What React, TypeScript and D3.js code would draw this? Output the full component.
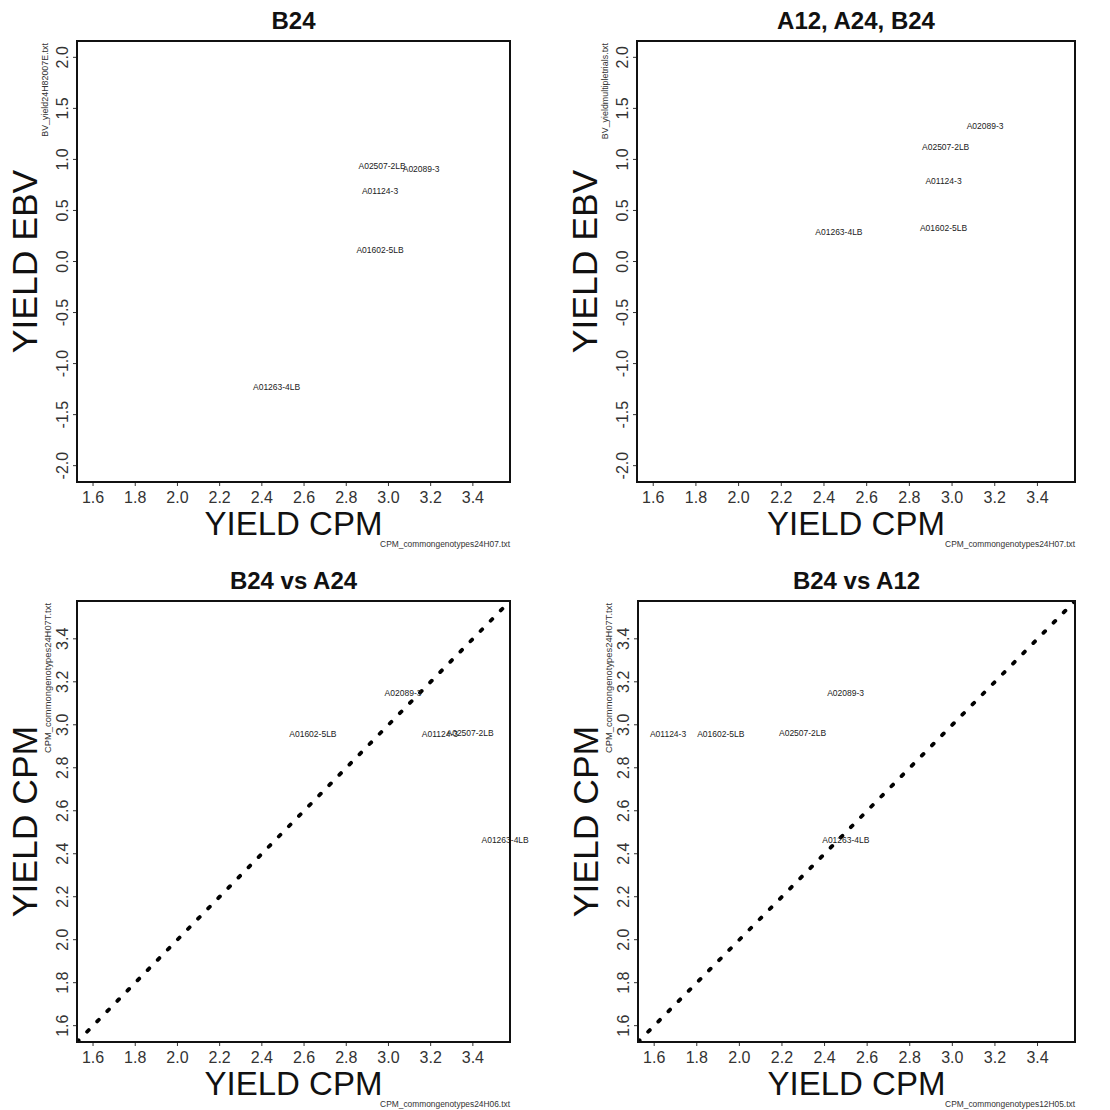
import React from "react";
import * as d3 from "d3";

// ---- data ----
const genotypes = ["A02507-2LB", "A02089-3", "A01124-3", "A01602-5LB", "A01263-4LB"];
const cpm24H07 = [2.97, 3.155, 2.96, 2.96, 2.47];
const ebvB24 = [0.934, 0.905, 0.689, 0.112, -1.228];
const ebvMulti = [1.12, 1.325, 0.787, 0.327, 0.288];
const cpm24H07T = [2.96, 3.149, 2.958, 2.958, 2.465];
const cpm24H06 = [3.387, 3.069, 3.244, 2.642, 3.553];
const cpm12H05 = [2.297, 2.499, 1.665, 1.913, 2.5];

const cpmTicks = [1.6, 1.8, 2.0, 2.2, 2.4, 2.6, 2.8, 3.0, 3.2, 3.4];
const ebvTicks = [-2.0, -1.5, -1.0, -0.5, 0.0, 0.5, 1.0, 1.5, 2.0];
const cpmLim: [number, number] = [1.6, 3.5];
const ebvLim: [number, number] = [-2, 2];

const titles = ["B24", "A12, A24, B24", "B24 vs A24", "B24 vs A12"];
const yFiles = [
  "BV_yield24H82007E.txt",
  "BV_yieldmultipletrials.txt",
  "CPM_commongenotypes24H07T.txt",
  "CPM_commongenotypes24H07T.txt",
];
const xFiles = [
  "CPM_commongenotypes24H07.txt",
  "CPM_commongenotypes24H07.txt",
  "CPM_commongenotypes24H06.txt",
  "CPM_commongenotypes12H05.txt",
];

const FONT = "'Liberation Sans', Arial, Helvetica, sans-serif";

function ext(lim: [number, number]): [number, number] {
  const r = lim[1] - lim[0];
  return [lim[0] - 0.04 * r, lim[1] + 0.04 * r];
}

const panels = [
  { title: titles[0], box: [77, 510, 41, 482], xs: cpm24H07, ys: ebvB24, xLim: cpmLim, yLim: ebvLim, yTicks: ebvTicks, yLabel: "YIELD EBV", yFile: yFiles[0], xFile: xFiles[0], diag: false, yFileSize: 8.9, yFileOff: 29 },
  { title: titles[1], box: [637, 1075, 41, 482], xs: cpm24H07, ys: ebvMulti, xLim: cpmLim, yLim: ebvLim, yTicks: ebvTicks, yLabel: "YIELD EBV", yFile: yFiles[1], xFile: xFiles[1], diag: false, yFileSize: 8.9, yFileOff: 29 },
  { title: titles[2], box: [77, 510, 601, 1042], xs: cpm24H06, ys: cpm24H07T, xLim: cpmLim, yLim: cpmLim, yTicks: cpmTicks, yLabel: "YIELD CPM", yFile: yFiles[2], xFile: xFiles[2], diag: true, yFileSize: 9.4, yFileOff: 26 },
  { title: titles[3], box: [638, 1075, 601, 1042], xs: cpm12H05, ys: cpm24H07T, xLim: cpmLim, yLim: cpmLim, yTicks: cpmTicks, yLabel: "YIELD CPM", yFile: yFiles[3], xFile: xFiles[3], diag: true, yFileSize: 9.4, yFileOff: 26 },
];

function Panel({ p, idx }: { p: any; idx: number }) {
  const [l, r, t, b] = p.box;
  const x = d3.scaleLinear().domain(ext(p.xLim)).range([l, r]);
  const y = d3.scaleLinear().domain(ext(p.yLim)).range([b, t]);
  const cx = (l + r) / 2;
  const cy = (t + b) / 2;
  const clipId = `clip${idx}`;
  const dom = ext(p.xLim);
  const diagPath = d3.line<number>().x((v) => x(v)).y((v) => y(v))([dom[0], dom[1]]);
  return (
    <g fontFamily={FONT}>
      <defs>
        <clipPath id={clipId}>
          <rect x={l} y={t} width={r - l} height={b - t} />
        </clipPath>
      </defs>
      <text x={cx} y={t - 12} textAnchor="middle" fontSize={24} fontWeight="bold" fill="#111">
        {p.title}
      </text>
      {/* x axis */}
      {cpmTicks.map((v) => (
        <g key={"xt" + v}>
          <line x1={x(v)} x2={x(v)} y1={b} y2={b + 4} stroke="#333" strokeWidth={1} />
          <text x={x(v)} y={b + 21} textAnchor="middle" fontSize={16} fill="#333">
            {v.toFixed(1)}
          </text>
        </g>
      ))}
      {/* y axis */}
      {p.yTicks.map((v: number) => (
        <g key={"yt" + v}>
          <line x1={l - 4} x2={l} y1={y(v)} y2={y(v)} stroke="#333" strokeWidth={1} />
          <text
            transform={`translate(${l - 9},${y(v)}) rotate(-90)`}
            textAnchor="middle"
            fontSize={16}
            fill="#333"
          >
            {v.toFixed(1)}
          </text>
        </g>
      ))}
      {/* axis titles */}
      <text x={cx} y={b + 53} textAnchor="middle" fontSize={33} fill="#111">
        YIELD CPM
      </text>
      <text transform={`translate(${l - 40},${cy}) rotate(-90)`} textAnchor="middle" fontSize={35.5} fill="#111">
        {p.yLabel}
      </text>
      {/* file annotations */}
      <text x={r} y={b + 65} textAnchor="end" fontSize={8.4} fill="#333">
        {p.xFile}
      </text>
      <text transform={`translate(${l - p.yFileOff},${t + 2}) rotate(-90)`} textAnchor="end" fontSize={p.yFileSize} fill="#333">
        {p.yFile}
      </text>
      {/* diagonal */}
      {p.diag && (
        <path
          d={diagPath || ""}
          clipPath={`url(#${clipId})`}
          stroke="#000"
          strokeWidth={3.8}
          strokeLinecap="round"
          strokeDasharray="2.4 12"
          fill="none"
        />
      )}
      {/* labels */}
      {genotypes.map((g, i) => (
        <text
          key={g}
          x={x(p.xs[i])}
          y={y(p.ys[i])}
          dy="0.35em"
          textAnchor="middle"
          fontSize={8.5}
          fill="#222"
        >
          {g}
        </text>
      ))}
      {/* frame */}
      <rect x={l} y={t} width={r - l} height={b - t} fill="none" stroke="#111" strokeWidth={2} />
    </g>
  );
}

export default function App() {
  return (
    <svg
      width={1110}
      height={1110}
      style={{ position: "absolute", left: 0, top: 0, background: "#fff" }}
    >
      <rect x={0} y={0} width={1110} height={1110} fill="#fff" />
      {panels.map((p, i) => (
        <Panel key={i} p={p} idx={i} />
      ))}
    </svg>
  );
}
